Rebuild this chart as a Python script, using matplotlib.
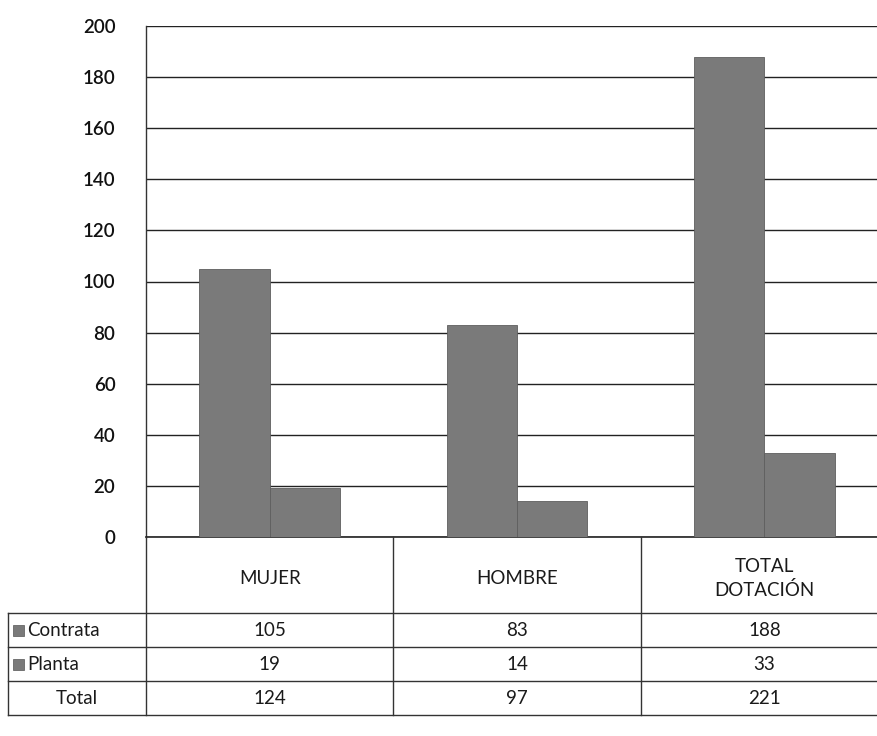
import matplotlib
matplotlib.use("Agg")
import matplotlib.pyplot as plt
from matplotlib.transforms import blended_transform_factory
from matplotlib.patches import Rectangle
from matplotlib.lines import Line2D

categories = ["MUJER", "HOMBRE", "TOTAL\nDOTACIÓN"]
contrata = [105, 83, 188]
planta = [19, 14, 33]
total = [124, 97, 221]
series_names = ["Contrata", "Planta"]
yticks = [0, 20, 40, 60, 80, 100, 120, 140, 160, 180, 200]

plt.rcParams['font.family'] = ['Lato', 'DejaVu Sans']

W, H = 877, 736
fig = plt.figure(figsize=(W / 100, H / 100), dpi=100)
left, right = 146 / W, 888 / W
bottom, top = (H - 537) / H, (H - 26) / H
ax = fig.add_axes([left, bottom, right - left, top - bottom])

x = list(range(len(categories)))
bw = 0.285
bar_color = "#7a7a7a"
ax.bar([i - bw / 2 for i in x], contrata, bw, color=bar_color, edgecolor="#5e5e5e", linewidth=0.6, zorder=3)
ax.bar([i + bw / 2 for i in x], planta, bw, color=bar_color, edgecolor="#5e5e5e", linewidth=0.6, zorder=3)

ax.set_xlim(-0.5, len(categories) - 0.5)
ax.set_ylim(0, 200)
ax.set_yticks(yticks)
ax.set_yticklabels([str(v) for v in yticks], fontsize=13.5, color="#111111", fontweight="semibold")
ax.tick_params(axis='y', length=0, pad=22)
ax.set_xticks([])
ax.yaxis.grid(True, color="#222222", linewidth=1.0)
ax.set_axisbelow(True)
for s in ["top", "right"]:
    ax.spines[s].set_visible(False)
ax.spines["bottom"].set_color("#222222")
ax.spines["bottom"].set_linewidth(1.2)
ax.spines["left"].set_color("#333333")
ax.spines["left"].set_linewidth(1.0)

# data table drawn below the axes
tr = blended_transform_factory(ax.transData, fig.transFigure)
tf = fig.transFigure
def fy(py):
    return (H - py) / H

row_tops = [537, 613, 647, 681, 715]
lc = "#333333"
fig.add_artist(Line2D([left, left], [fy(537), fy(715)], transform=tf, color=lc, lw=1.0))
for b in [0.5, 1.5]:
    fig.add_artist(Line2D([b, b], [fy(537), fy(715)], transform=tr, color=lc, lw=1.0))
fig.add_artist(Line2D([8 / W, 8 / W], [fy(613), fy(715)], transform=tf, color=lc, lw=1.0))
for py in row_tops[1:]:
    fig.add_artist(Line2D([8 / W, 1.0], [fy(py), fy(py)], transform=tf, color=lc, lw=1.0))

tc = "#1a1a1a"
fs = 13.5
for i, c in enumerate(categories):
    fig.text(i, fy((537 + 613) / 2 + 3), c, transform=tr, ha="center", va="center",
             fontsize=fs, color=tc, linespacing=1.4)

rows = [contrata, planta, total]
row_names = series_names + ["Total"]
for r, (vals, name) in enumerate(zip(rows, row_names)):
    yc = fy((row_tops[r + 1] + row_tops[r + 2]) / 2)
    for i, v in enumerate(vals):
        fig.text(i, yc, str(v), transform=tr, ha="center", va="center", fontsize=fs, color=tc)
    if r < 2:
        fig.add_artist(Rectangle((13 / W, yc - 5.5 / H), 11 / W, 11 / H, transform=tf,
                                 facecolor=bar_color, edgecolor="#555555", lw=0.5))
        fig.text(27 / W, yc, name, transform=tf, ha="left", va="center", fontsize=fs, color=tc)
    else:
        fig.text((8 + 146) / 2 / W, yc, name, transform=tf, ha="center", va="center", fontsize=fs, color=tc)

fig.savefig("out.png", dpi=100)
